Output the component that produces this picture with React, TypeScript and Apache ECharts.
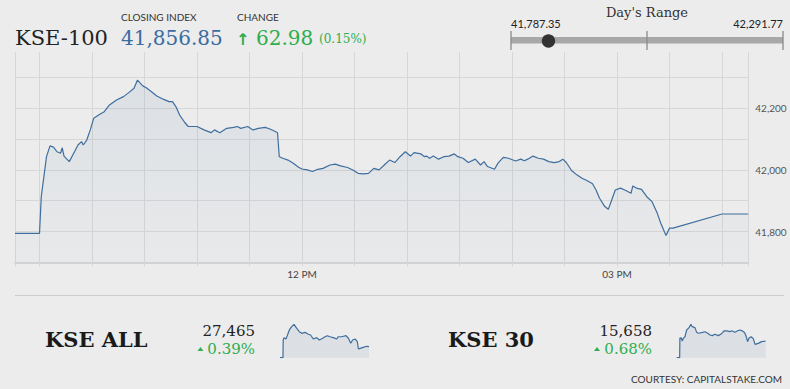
import React, { useEffect, useRef } from 'react';
import * as echarts from 'echarts';

// ---------- data ----------
const indexName = 'KSE-100';
const closeValue = 41856.85;
const changeValue = 62.98;
const changePct = 0.15;
const dayLow = 41787.35;
const dayHigh = 42291.77;

// minutes since midnight
const kseTimes = [556,570,571,574,576,578,580,582,583,584,587,590,592,594,595,597,599,601,604,607,610,614,618,621,624,626,629,631,634,637,641,644,646,648,650,653,655,660,664,668,670,673,677,681,683,685,689,692,695,699,702,705,706,707,709,712,715,718,720,723,726,729,732,736,739,742,746,749,752,755,758,761,764,767,770,773,776,779,782,784,788,790,791,793,795,798,801,804,807,809,812,815,819,822,824,826,830,832,835,838,842,845,847,849,852,855,858,861,864,867,869,871,874,877,880,883,886,888,890,893,895,897,899,902,905,908,909,911,914,917,920,923,925,927,928,930,932,960,975];
const kseValues = [41793.87,41793.87,41913,42043,42078,42074,42059,42054,42072,42045,42027,42059,42081,42092,42081,42097,42130,42168,42179,42189,42211,42227,42238,42251,42265,42291.77,42273,42267,42254,42240,42229,42222,42222,42205,42179,42154,42141,42141,42130,42121,42130,42121,42135,42138,42141,42135,42141,42130,42135,42138,42132,42124,42121,42043,42038,42032,42022,42009,42003,42000,41995,42002,42005,42016,42019,42013,42008,42000,41989,41987,41989,42005,42000,42016,42032,42024,42043,42059,42045,42056,42052,42043,42045,42038,42045,42035,42043,42045,42052,42043,42038,42024,42035,42016,42027,42011,42002,42022,42041,42038,42029,42035,42030,42035,42045,42038,42035,42027,42024,42027,42035,42024,41998,41984,41973,41965,41955,41935,41908,41881,41872,41903,41935,41941,41933,41924,41948,41941,41937,41913,41897,41859,41827,41800,41787.35,41811,41811,41856.85,41856.85];

const xStart = 556;
const xEnd = 975;
const xGridStep = 30;
const xTickMinutes = [720, 900];
const xTickLabels = ['12 PM', '03 PM'];
const yLabelStep = 200;

const allName = 'KSE ALL';
const allClose = 27465;
const allPct = 0.39;
const allTimes = [556,570,571,575,584,590,600,611,622,635,647,658,674,689,700,713,729,741,757,768,779,791,807,823,830,846,867,878,889,898,909,920,925,933,948,964,975];
const allValues = [27358,27358,27530,27553,27540,27572,27628,27660,27683,27644,27611,27595,27605,27586,27579,27540,27553,27530,27547,27562,27572,27562,27553,27540,27562,27562,27572,27547,27498,27530,27540,27514,27443,27449,27459,27469,27465];

const k30Name = 'KSE 30';
const k30Close = 15658;
const k30Pct = 0.68;
const k30Times = [556,570,571,572,577,582,587,595,603,614,623,629,642,650,658,674,689,702,713,724,736,752,765,780,791,807,815,830,843,854,865,874,881,890,896,906,912,917,925,940,956,975];
const k30Values = [15552,15552,15679,15671,15679,15658,15675,15685,15728,15743,15764,15749,15743,15713,15707,15711,15717,15707,15696,15692,15701,15692,15702,15723,15722,15717,15723,15713,15723,15728,15722,15713,15696,15654,15675,15685,15679,15671,15637,15643,15654,15658];

const courtesy = 'COURTESY: CAPITALSTAKE.COM';

// ---------- styling ----------
const BG = '#ececec';
const GRID = '#d7d7d7';
const LINE = '#3f6e9e';
const GREEN = '#2eae4e';
const BLUE = '#3b6ca0';
const SERIF = "'DejaVu Serif', 'Liberation Serif', serif";
const SANS = "Lato, 'Open Sans', sans-serif";

const fmt = (v: number, d = 0) =>
  v.toLocaleString('en-US', { minimumFractionDigits: d, maximumFractionDigits: d });

const zip = (a: number[], b: number[]) => a.map((t, i) => [t, b[i]]);

export default function App() {
  const ref = useRef<HTMLDivElement>(null);

  useEffect(() => {
    document.body.style.margin = '0';
    const chart = echarts.init(ref.current!, null, { renderer: 'svg' });

    const gridTicks: number[] = [xStart];
    for (let t = Math.ceil(xStart / xGridStep) * xGridStep; t < xEnd; t += xGridStep) {
      if (t > xStart) gridTicks.push(t);
    }
    gridTicks.push(xEnd);

    const trackL = 511;
    const trackR = 783;
    const dotX = trackL + ((closeValue - dayLow) / (dayHigh - dayLow)) * (trackR - trackL);

    const text = (x: number, y: number, t: string, font: string, fill: string, align = 'left') => ({
      type: 'text',
      x,
      y,
      silent: true,
      style: { text: t, font, fill, textAlign: align, textVerticalAlign: 'middle' },
    });

    const option: any = {
      animation: false,
      backgroundColor: BG,
      grid: [
        { left: 15, right: 41.7, top: 52, bottom: 126.7 },
        { left: 280, top: 324.3, width: 89, height: 33.4 },
        { left: 676.7, top: 324.3, width: 89, height: 33.4 },
      ],
      xAxis: [
        {
          type: 'value',
          gridIndex: 0,
          min: xStart,
          max: xEnd,
          axisLine: { show: true, lineStyle: { color: '#d2d2d2', width: 2 } },
          axisTick: { show: true, length: 4, customValues: gridTicks, lineStyle: { color: GRID } },
          splitLine: { show: true, lineStyle: { color: GRID, width: 1 } },
          axisLabel: {
            customValues: xTickMinutes,
            color: '#444',
            fontFamily: SANS,
            fontSize: 10,
            margin: 7,
            formatter: (v: number) => {
              const i = xTickMinutes.indexOf(Math.round(v));
              return i >= 0 ? xTickLabels[i] : '';
            },
          },
        },
        { type: 'value', gridIndex: 1, min: xStart, max: xEnd, show: false },
        { type: 'value', gridIndex: 2, min: xStart, max: xEnd, show: false },
      ],
      yAxis: [
        {
          type: 'value',
          gridIndex: 0,
          position: 'right',
          min: 41700,
          max: 42383,
          interval: 100,
          axisLine: { show: false },
          axisTick: { show: false },
          splitLine: { show: true, showMaxLine: false, lineStyle: { color: GRID, width: 1 } },
          axisLabel: {
            color: '#555',
            fontFamily: SANS,
            fontSize: 10,
            margin: 7,
            formatter: (v: number) =>
              Math.abs(v % yLabelStep) < 0.01 && v > 41700 ? fmt(v) : '',
          },
        },
        { type: 'value', gridIndex: 1, min: 'dataMin', max: 'dataMax', show: false },
        { type: 'value', gridIndex: 2, min: 'dataMin', max: 'dataMax', show: false },
      ],
      series: [
        {
          type: 'line',
          xAxisIndex: 0,
          yAxisIndex: 0,
          data: zip(kseTimes, kseValues),
          showSymbol: false,
          symbol: 'none',
          lineStyle: { color: LINE, width: 1.2 },
          areaStyle: {
            color: new echarts.graphic.LinearGradient(0, 0, 0, 1, [
              { offset: 0, color: 'rgba(65,112,159,0.14)' },
              { offset: 1, color: 'rgba(65,112,159,0.03)' },
            ]),
          },
        },
        {
          type: 'line',
          xAxisIndex: 1,
          yAxisIndex: 1,
          data: zip(allTimes, allValues),
          symbol: 'none',
          lineStyle: { color: LINE, width: 1.2 },
          areaStyle: { color: 'rgba(65,112,159,0.13)' },
        },
        {
          type: 'line',
          xAxisIndex: 2,
          yAxisIndex: 2,
          data: zip(k30Times, k30Values),
          symbol: 'none',
          lineStyle: { color: LINE, width: 1.2 },
          areaStyle: { color: 'rgba(65,112,159,0.13)' },
        },
      ],
      graphic: [
        // header
        text(15, 38, indexName, `21px ${SERIF}`, '#222'),
        text(121, 17, 'CLOSING INDEX', `10px ${SANS}`, '#333'),
        text(121, 38, fmt(closeValue, 2), `20px ${SERIF}`, BLUE),
        text(237, 17, 'CHANGE', `10px ${SANS}`, '#333'),
        text(236, 39, '↑', `bold 16px 'DejaVu Sans', sans-serif`, GREEN),
        text(256, 38, fmt(changeValue, 2), `20px ${SERIF}`, GREEN),
        text(319, 39, `(${fmt(changePct, 2)}%)`, `12px ${SERIF}`, GREEN),
        // day's range
        text((trackL + trackR) / 2, 12, "Day's Range", `13px ${SERIF}`, '#333', 'center'),
        text(trackL, 23, fmt(dayLow, 2), `11px ${SANS}`, '#222'),
        text(trackR, 23, fmt(dayHigh, 2), `11px ${SANS}`, '#222', 'right'),
        {
          type: 'rect',
          silent: true,
          shape: { x: trackL, y: 37, width: trackR - trackL, height: 6.5 },
          style: { fill: '#a8a8a8' },
        },
        ...[trackL, (trackL + trackR) / 2, trackR].map((x) => ({
          type: 'line',
          silent: true,
          shape: { x1: x, y1: 31, x2: x, y2: 50 },
          style: { stroke: '#8a8a8a', lineWidth: 1.3 },
        })),
        {
          type: 'circle',
          silent: true,
          shape: { cx: dotX, cy: 41, r: 6.7 },
          style: { fill: '#333' },
        },
        // separator
        {
          type: 'line',
          silent: true,
          shape: { x1: 15, y1: 295.5, x2: 784, y2: 295.5 },
          style: { stroke: '#cccccc', lineWidth: 1 },
        },
        // KSE ALL
        text(45, 339, allName, `bold 21px ${SERIF}`, '#1a1a1a'),
        text(255, 331, fmt(allClose), `15px ${SERIF}`, '#222', 'right'),
        text(255, 349, `${fmt(allPct, 2)}%`, `15px ${SERIF}`, GREEN, 'right'),
        {
          type: 'polygon',
          silent: true,
          shape: { points: [[197.5, 351], [203.5, 351], [200.5, 347]] },
          style: { fill: GREEN },
        },
        // KSE 30
        text(448, 339, k30Name, `bold 21px ${SERIF}`, '#1a1a1a'),
        text(652, 331, fmt(k30Close), `15px ${SERIF}`, '#222', 'right'),
        text(652, 349, `${fmt(k30Pct, 2)}%`, `15px ${SERIF}`, GREEN, 'right'),
        {
          type: 'polygon',
          silent: true,
          shape: { points: [[594, 351], [600, 351], [597, 347]] },
          style: { fill: GREEN },
        },
        text(782, 379, courtesy, `10px ${SANS}`, '#333', 'right'),
      ],
    };

    chart.setOption(option);
    return () => chart.dispose();
  }, []);

  return (
    <div
      ref={ref}
      style={{ position: 'absolute', left: 0, top: 0, width: 790, height: 389, background: BG }}
    />
  );
}
